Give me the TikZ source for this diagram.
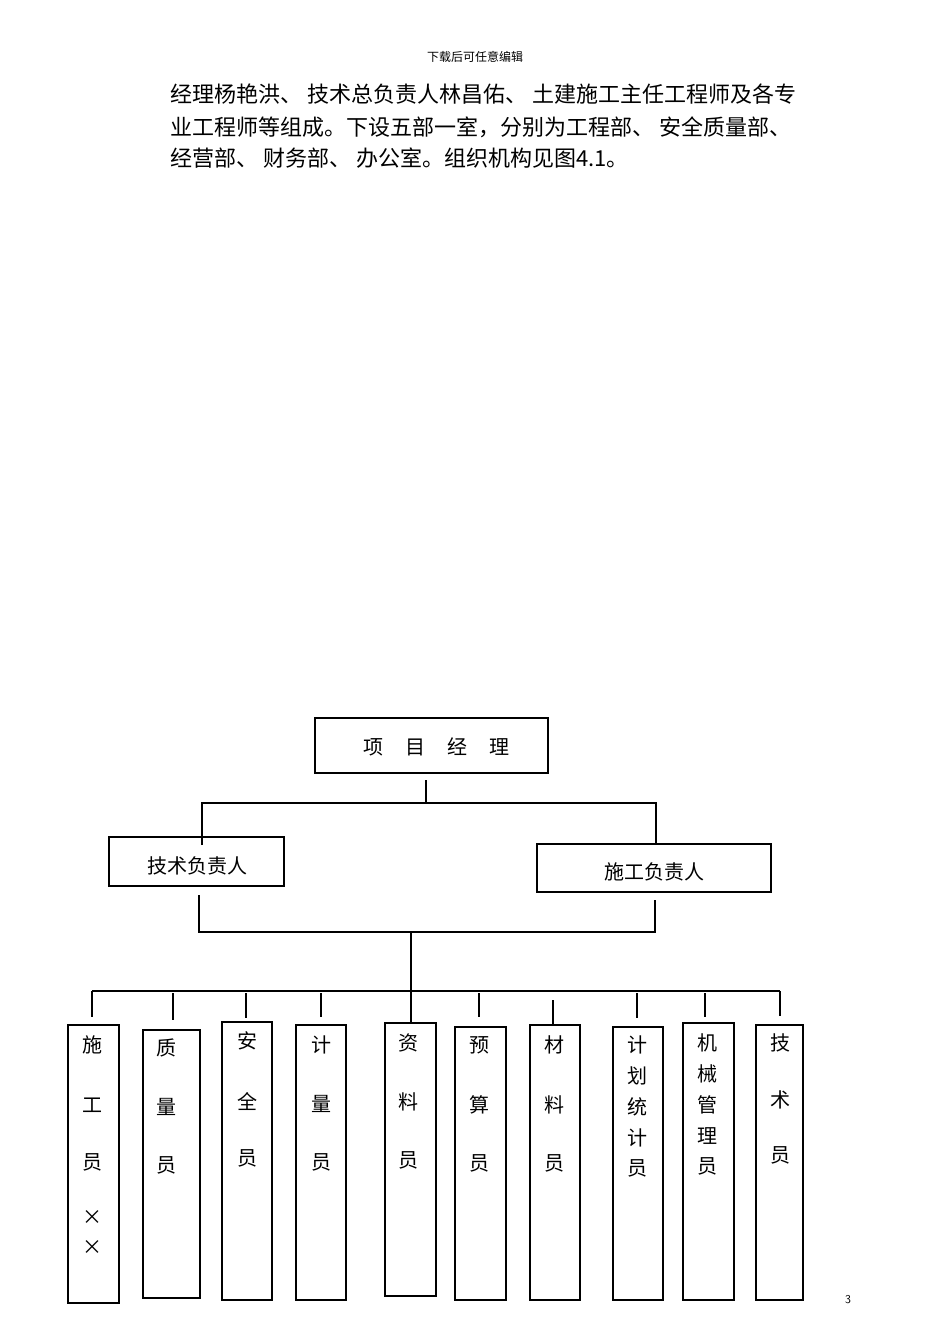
\documentclass[tikz,border=0pt]{standalone}
\usepackage{fontspec}
\newfontfamily\cjk{Noto Sans CJK SC}
\begin{document}
\begin{tikzpicture}[x=1pt,y=-1pt,
  bx/.style={draw,line width=1.2pt},
  ln/.style={line width=1.2pt},
  ch/.style={font=\cjk\fontsize{20}{20}\selectfont,inner sep=0pt},
  para/.style={font=\cjk\fontsize{22}{22}\selectfont,anchor=west,inner sep=0pt}]
\useasboundingbox (0,0) rectangle (950,1344);
\node[font=\cjk\fontsize{12}{12}\selectfont] (hdr) at (475,57) {下载后可任意编辑};
\node[para] (p1) at (170,94) {经理杨艳洪、 技术总负责人林昌佑、 土建施工主任工程师及各专};
\node[para] (p2) at (170,127) {业工程师等组成。下设五部一室，分别为工程部、 安全质量部、};
\node[para] (p3) at (170,158) {经营部、 财务部、 办公室。组织机构见图4.1。};
\node[font=\sffamily\fontsize{12}{12}\selectfont] (pg) at (848,1300) {3};
% top
\draw[bx] (315,718) rectangle (548,773);
\node[ch] (pm) at (436,747) {项\hspace{1.1em}目\hspace{1.1em}经\hspace{1.1em}理};
\draw[bx] (109,837) rectangle (284,886);
\node[ch] (js) at (197,866) {技术负责人};
\draw[bx] (537,844) rectangle (771,892);
\node[ch] (sg) at (654,872) {施工负责人};
\coordinate (a1) at (426,780); \coordinate (a2) at (426,803);
\coordinate (l1) at (202,803); \coordinate (l2) at (202,845);
\coordinate (r1) at (656,803); \coordinate (r2) at (656,844);
\draw[ln] (a1)--(a2) (l2)--(l1)--(r1)--(r2);
\coordinate (b1) at (199,895); \coordinate (b2) at (199,932);
\coordinate (c1) at (655,900); \coordinate (c2) at (655,932);
\coordinate (m1) at (411,932); \coordinate (m2) at (411,1023);
\draw[ln] (b1)--(b2)--(c2)--(c1) (m1)--(m2);
\coordinate (h1) at (92,991); \coordinate (h2) at (780,991);
\draw[ln] (h1)--(h2);
% bottom boxes: x1,x2,y1,y2,dropx,droptop,dropbottom
\foreach \xa/\xb/\ya/\yb/\dx/\dt/\db in {
 68/119/1025/1303/92/991/1017,
 143/200/1030/1298/173/993/1020,
 222/272/1022/1300/246/993/1018,
 296/346/1025/1300/321/993/1017,
 385/436/1023/1296/411/991/1023,
 455/506/1027/1300/479/993/1017,
 530/580/1025/1300/553/1000/1025,
 613/663/1027/1300/637/993/1018,
 683/734/1023/1300/705/993/1017,
 756/803/1025/1300/780/991/1016}{
 \draw[bx] (\xa,\ya) rectangle (\xb,\yb);
 \draw[ln] (\dx,\dt)--(\dx,\db);
}
\foreach \x/\y/\t in {92/1045/施,92/1105/工,92/1162/员,92/1218/×,92/1248/×,
 166/1048/质,166/1107/量,166/1165/员,
 247/1041/安,247/1101/全,247/1158/员,
 321/1045/计,321/1104/量,321/1162/员,
 408/1043/资,408/1102/料,408/1160/员,
 479/1045/预,479/1105/算,479/1163/员,
 554/1045/材,554/1105/料,554/1163/员,
 637/1045/计,637/1076/划,637/1107/统,637/1138/计,637/1168/员,
 707/1043/机,707/1074/械,707/1105/管,707/1136/理,707/1166/员,
 780/1043/技,780/1100/术,780/1155/员}{
 \node[ch] at (\x,\y) {\t};
}
\end{tikzpicture}
\end{document}
